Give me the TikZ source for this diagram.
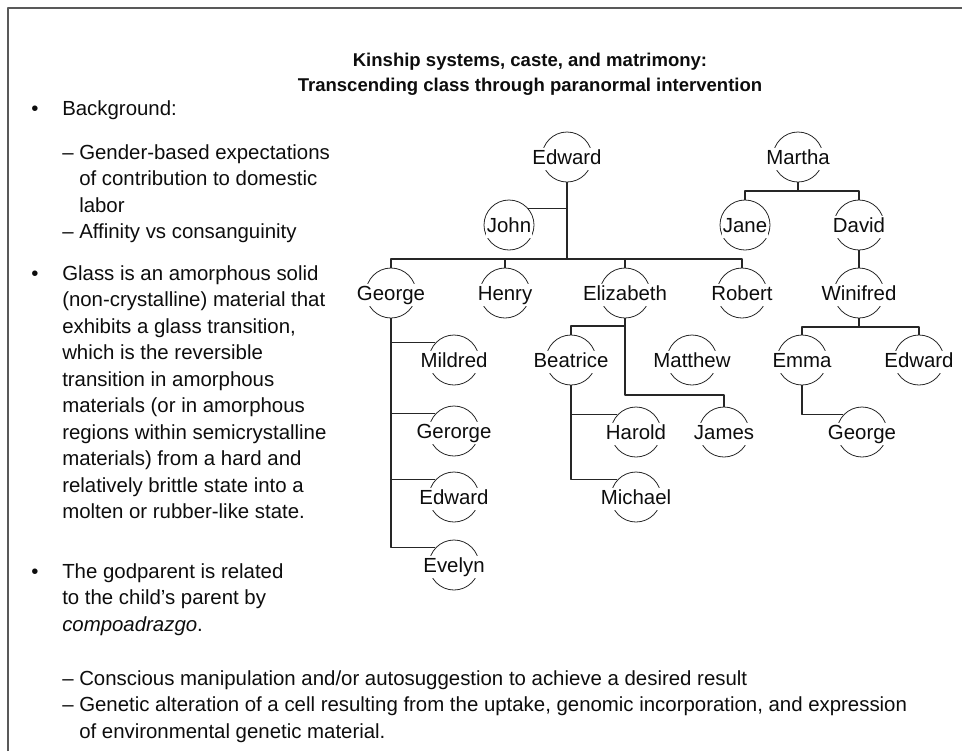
\documentclass[tikz,border=0pt]{standalone}
\usepackage{fontspec}
\setmainfont{Liberation Sans}
\usetikzlibrary{positioning}
\tikzset{
  body/.style={font=\fontsize{15.3pt}{19.9pt}\selectfont, text=black!95},
  ring/.style={circle, draw=black!85, line width=0.6pt, minimum size=37.5pt, inner sep=0pt},
  who/.style={body, fill=white, inner xsep=1pt, inner ysep=1pt, text height=11.5pt, text depth=3.5pt, yshift=-1.5pt},
  para/.style={body, anchor=north west, inner sep=0pt, align=left},
  dot/.style={body, anchor=base, inner sep=0pt},
  link/.style={draw=black!85, line width=0.9pt},
}
\begin{document}
\begin{tikzpicture}[x=0.75pt, y=-0.75pt, line join=round]
  \useasboundingbox (0,0) rectangle (962,751);
  \draw[black!65, line width=1.3pt] (8,751) -- (8,8) -- (962,8);
  % title
  \node[body, anchor=north, align=center, inner sep=0pt,
        font=\fontsize{13.9pt}{18.75pt}\selectfont\bfseries] (title) at (530,52.5)
    {Kinship systems, caste, and matrimony:\\Transcending class through paranormal intervention};
  % left column
  \node[dot] (d1) at (35,115) {•};
  \node[para] (bg) at (62,100) {Background:};
  \node[para] (bglist) at (62,144) {– Gender-based expectations\\\phantom{–\ }of contribution to domestic\\\phantom{–\ }labor\\– Affinity vs consanguinity};
  \node[dot] (d2) at (35,280) {•};
  \node[para] (glass) at (62,265) {Glass is an amorphous solid\\(non-crystalline) material that\\exhibits a glass transition,\\which is the reversible\\transition in amorphous\\materials (or in amorphous\\regions within semicrystalline\\materials) from a hard and\\relatively brittle state into a\\molten or rubber-like state.};
  \node[dot] (d3) at (35,578) {•};
  \node[para] (god) at (62,563) {The godparent is related\\to the child’s parent by\\\textit{compoadrazgo}.};
  \node[para] (bottom) at (62,670) {– Conscious manipulation and/or autosuggestion to achieve a desired result\\– Genetic alteration of a cell resulting from the uptake, genomic incorporation, and expression\\\phantom{–\ }of environmental genetic material.};
  % family tree
  \foreach \id/\px/\py/\txt in {edA/567/157/Edward, john/509/225/John, martha/798/157/Martha,
      jane/745/225/Jane, david/859/225/David, georgeA/391/293/George, henry/505/293/Henry,
      eliz/625/293/Elizabeth, robert/742/293/Robert, winifred/859/293/Winifred,
      mildred/454/360/Mildred, beatrice/571/360/Beatrice, matthew/692/360/Matthew,
      emma/802/360/Emma, edB/919/360/Edward, gerorge/454/431/Gerorge, harold/636/432/Harold,
      james/724/432/James, georgeB/862/432/George, edC/454/497/Edward,
      michael/636/497/Michael, evelyn/454/565/Evelyn}{
    \node[ring] (\id) at (\px,\py) {};
    \node[who] (\id-t) at (\id) {\txt};
  }
  \coordinate (jA) at (567,259);
  \coordinate (jM) at (798,191);
  \coordinate (jW) at (859,327);
  \coordinate (jE) at (625,326);
  \coordinate (jJ) at (724,395);
  \draw[link] (edA.south) -- (jA);
  \draw[link] (john.40) -- (john.40 -| edA);
  \draw[link] (georgeA.north) |- (jA) -| (robert.north);
  \draw[link] (henry.north) -- (henry.north |- jA);
  \draw[link] (eliz.north) -- (eliz.north |- jA);
  \draw[link] (martha.south) -- (jM);
  \draw[link] (jane.north) |- (jM) -| (david.north);
  \draw[link] (david) -- (winifred);
  \draw[link] (winifred.south) -- (jW);
  \draw[link] (emma.north) |- (jW) -| (edB.north);
  \draw[link] (emma.south) |- (georgeB.137);
  \draw[link] (georgeA.south) |- (evelyn.137);
  \foreach \k in {mildred, gerorge, edC}
    \draw[link] (\k.137) -- (\k.137 -| georgeA);
  \draw[link] (eliz.south) -- (jE) -| (beatrice.north);
  \draw[link] (jE) |- (jJ) -- (james.north);
  \draw[link] (beatrice.south) |- (michael.137);
  \draw[link] (harold.137) -- (harold.137 -| beatrice);
\end{tikzpicture}
\end{document}
